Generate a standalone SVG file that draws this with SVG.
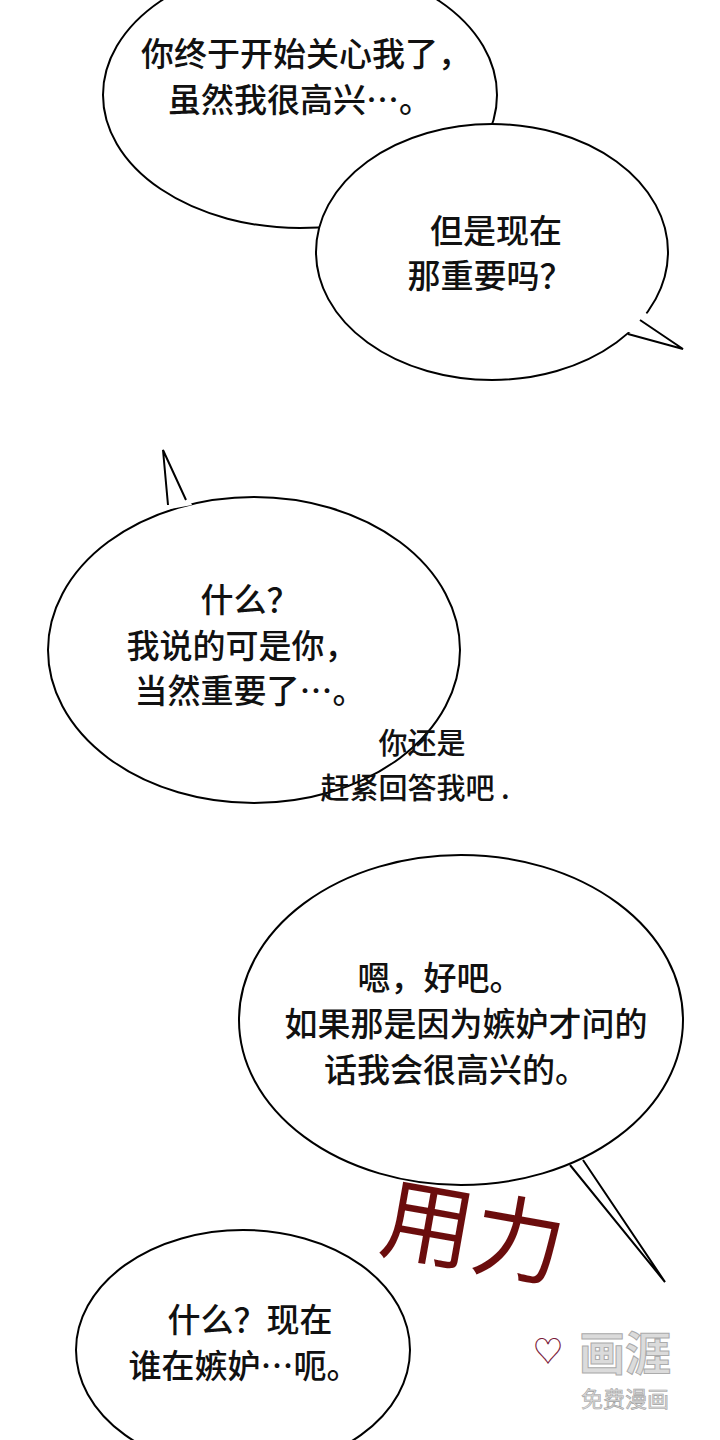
<svg xmlns="http://www.w3.org/2000/svg" width="720" height="1440" viewBox="0 0 720 1440">
<style>
.b{fill:#fff;stroke:#000;stroke-width:2}
.w{fill:#fff;stroke:none}
.l{fill:none;stroke:#000;stroke-width:2}
.t{font-family:"Noto Sans CJK SC","Noto Sans",sans-serif;font-size:33px;font-weight:500;fill:#111;text-anchor:middle}
.h{font-family:"Noto Sans CJK SC",sans-serif;font-size:29px;font-weight:500;fill:#111;text-anchor:middle}
</style>
<rect width="720" height="1440" fill="#fff"/>
<g id="bubble1"><ellipse class="b" cx="300" cy="95" rx="197" ry="133"/>
<text class="t" x="306" y="66">你终于开始关心我了，</text><text class="t" x="300" y="112">虽然我很高兴…。</text></g>
<g id="bubble2"><ellipse class="b" cx="492" cy="252" rx="176" ry="128"/>
<polygon class="w" points="622,330 645,312 683,349"/><polyline class="l" points="628,334 683,349 640,320"/>
<text class="t" x="496" y="243">但是现在</text><text class="t" x="490" y="288">那重要吗？</text></g>
<g id="bubble3"><ellipse class="b" cx="254" cy="650" rx="206" ry="153"/>
<polygon class="w" points="165,510 163,450 192,505"/><polyline class="l" points="168,505 163,450 186,500"/>
<text class="t" x="250" y="612">什么？</text><text class="t" x="242" y="658">我说的可是你，</text><text class="t" x="250" y="703">当然重要了…。</text></g>
<g id="note"><text class="h" x="422" y="754">你还是</text><text class="h" x="415" y="799">赶紧回答我吧 .</text></g>
<g id="bubble4"><ellipse class="b" cx="461" cy="1020" rx="222" ry="165"/>
<polygon class="w" points="565,1175 595,1168 665,1282"/><polyline class="l" points="570,1165 665,1282 583,1160"/>
<text class="t" x="440" y="990">嗯，好吧。</text><text class="t" x="466" y="1036">如果那是因为嫉妒才问的</text><text class="t" x="456" y="1082">话我会很高兴的。</text></g>
<g id="bubble5"><ellipse class="b" cx="243" cy="1350" rx="167" ry="120"/>
<text class="t" x="250" y="1332">什么？现在</text><text class="t" x="244" y="1378">谁在嫉妒…呃。</text></g>
<g id="sfx"><text x="380" y="1265" transform="rotate(10 470 1240)" font-family="Noto Sans CJK SC,sans-serif" font-size="92" fill="#6b0d0d">用力</text>
<text x="533" y="1362" font-family="Noto Sans CJK SC,sans-serif" font-size="30" fill="#7a1a3a">♡</text></g>
<g id="wm" opacity="0.7"><text x="625" y="1370" text-anchor="middle" font-family="Noto Sans CJK SC,sans-serif" font-size="46" font-weight="bold" fill="#ccc" stroke="#888" stroke-width="1">画涯</text>
<text x="625" y="1407" text-anchor="middle" font-family="Noto Sans CJK SC,sans-serif" font-size="22" fill="#ccc" stroke="#777" stroke-width="0.6">免费漫画</text></g>
</svg>
